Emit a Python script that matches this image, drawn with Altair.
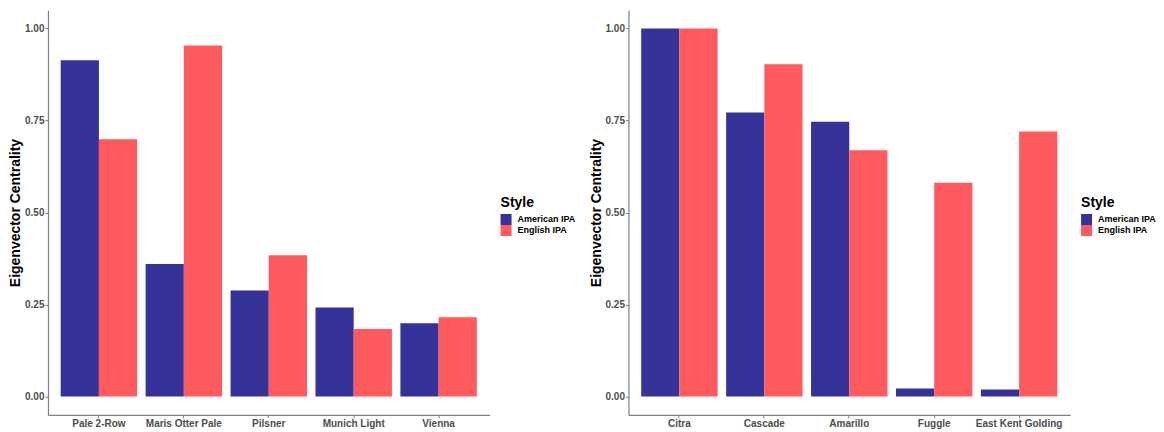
import altair as alt
import pandas as pd

styles = ["American IPA", "English IPA"]

malts = ["Pale 2-Row", "Maris Otter Pale", "Pilsner", "Munich Light", "Vienna"]
malt_american = [0.914, 0.360, 0.288, 0.242, 0.199]
malt_english = [0.699, 0.954, 0.384, 0.183, 0.215]

hops = ["Citra", "Cascade", "Amarillo", "Fuggle", "East Kent Golding"]
hop_american = [1.000, 0.772, 0.747, 0.0215, 0.019]
hop_english = [1.000, 0.903, 0.669, 0.581, 0.720]

colors = ["#35339A", "#FF5A5E"]


def make_df(cats, a, e):
    rows = []
    for c, va, ve in zip(cats, a, e):
        rows.append({"ingredient": c, "Style": styles[0], "value": va})
        rows.append({"ingredient": c, "Style": styles[1], "value": ve})
    return pd.DataFrame(rows)


FONT = "Liberation Sans"


def panel(df, cats):
    return alt.Chart(df).mark_bar().encode(
        x=alt.X("ingredient:N", sort=cats, title=None,
                scale=alt.Scale(paddingInner=0.1, paddingOuter=0.15),
                axis=alt.Axis(labelAngle=0, labelFont=FONT, labelFontSize=10,
                              labelFontWeight="bold", labelColor="#4D4D4D",
                              tickColor="#7F7F7F", tickSize=3, labelPadding=1,
                              domainColor="#7F7F7F", domainWidth=1.2)),
        xOffset=alt.XOffset("Style:N", sort=styles),
        y=alt.Y("value:Q", title="Eigenvector Centrality",
                scale=alt.Scale(domain=[-0.05, 1.05], nice=False, zero=False),
                axis=alt.Axis(values=[0, 0.25, 0.5, 0.75, 1.0], format=".2f",
                              grid=False, labelFont=FONT, labelFontSize=10,
                              labelFontWeight="bold", labelColor="#4D4D4D",
                              tickColor="#7F7F7F", tickSize=3, labelPadding=1,
                              domainColor="#7F7F7F", domainWidth=1.2,
                              titleFont=FONT, titleFontSize=14,
                              titleFontWeight="bold", titleColor="#000000",
                              titlePadding=2)),
        y2=alt.datum(0),
        color=alt.Color("Style:N", sort=styles,
                        scale=alt.Scale(domain=styles, range=colors),
                        legend=alt.Legend(orient="none", legendX=453, legendY=186,
                                          titleFont=FONT, titleFontSize=14,
                                          titleFontWeight="bold", titleColor="#000000",
                                          labelFont=FONT, labelFontSize=9,
                                          labelFontWeight="bold", labelColor="#000000",
                                          symbolType="square", symbolSize=121,
                                          symbolStrokeWidth=0, symbolOpacity=1,
                                          rowPadding=0, titlePadding=4,
                                          labelOffset=6, padding=0)),
    ).properties(width=442, height=405)


left = panel(make_df(malts, malt_american, malt_english), malts)
right = panel(make_df(hops, hop_american, hop_english), hops)

chart = alt.hconcat(left, right, spacing=13).resolve_legend(
    color="independent"
).properties(
    padding={"left": 0, "top": 2, "right": 0, "bottom": 0}
).configure(background="white").configure_view(stroke=None)

chart.save("out.html", embed_options={"renderer": "svg", "actions": False})
